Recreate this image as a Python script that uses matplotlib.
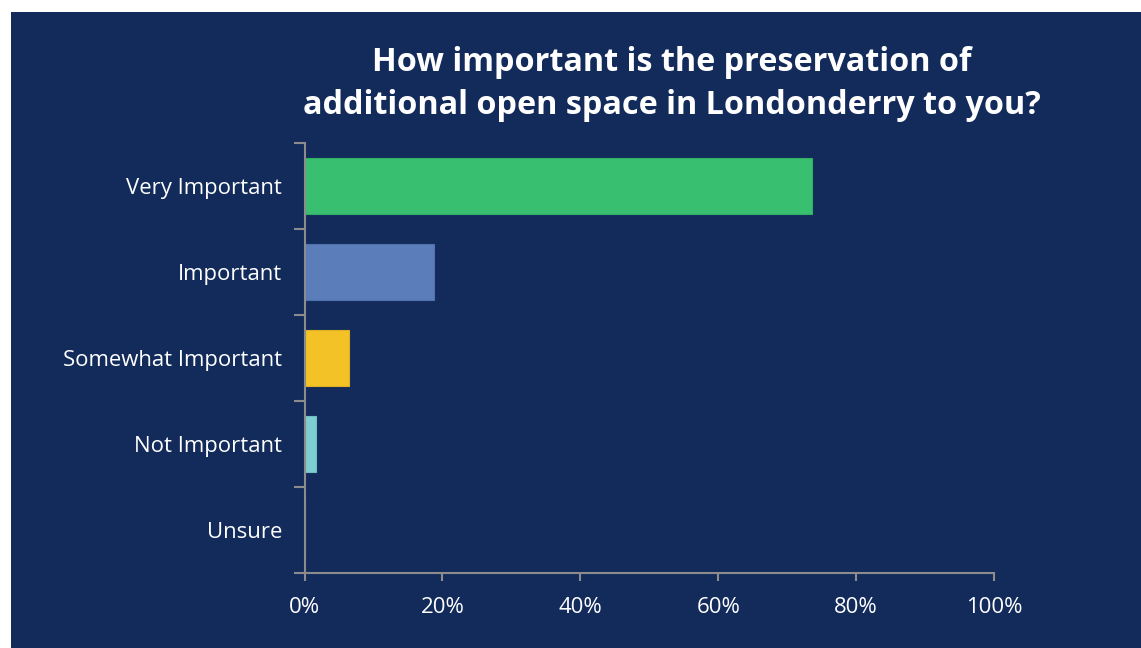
import matplotlib.pyplot as plt
from matplotlib.patches import Rectangle
from matplotlib.ticker import PercentFormatter

categories = ['Very Important', 'Important', 'Somewhat Important', 'Not Important', 'Unsure']
shares = [73.6, 18.8, 6.4, 1.6, 0.0]
colors = ['#38BF70', '#5B7DB9', '#F3C227', '#7ECDD0', '#7ECDD0']
edge_colors = ['#31AE64', '#5272AB', '#E0AF22', '#72BDC0', '#72BDC0']
title = 'How important is the preservation of\nadditional open space in Londonderry to you?'

navy = '#122B5B'
axis_grey = '#8C8C8C'

fig = plt.figure(figsize=(11.41, 6.48), dpi=100, facecolor='white')
# dark panel with a thin white margin on the top and left
fig.patches.append(Rectangle((11 / 1141, 0), 1, 1 - 12 / 648,
                             transform=fig.transFigure, facecolor=navy,
                             edgecolor='none', zorder=-5))

ax = fig.add_axes([304.5 / 1141, 1 - 573 / 648, 689.5 / 1141, 430 / 648])
ax.set_facecolor('none')

y = range(len(categories))
ax.barh(y, shares, height=0.66, color=colors, edgecolor=edge_colors, linewidth=0.8)
ax.set_ylim(len(categories) - 0.5, -0.5)
ax.set_xlim(0, 100)
ax.xaxis.set_major_formatter(PercentFormatter(decimals=0))
ax.set_xticks(range(0, 101, 20))

# category boundary ticks on the y axis, labels centred on the bars
ax.set_yticks([i - 0.5 for i in range(len(categories) + 1)])
ax.set_yticklabels([])
ax.set_yticks(list(y), minor=True)
ax.set_yticklabels(categories, minor=True)
ax.tick_params(axis='y', which='minor', length=0, pad=16)
ax.tick_params(axis='y', which='major', length=8, width=1.5, color=axis_grey)
ax.tick_params(axis='x', length=6, width=1.5, color=axis_grey, pad=11)

for lab in ax.get_yticklabels(minor=True) + ax.get_xticklabels():
    lab.set_family('Open Sans')
    lab.set_fontsize(15.9)
    lab.set_color('white')

for side in ['top', 'right']:
    ax.spines[side].set_visible(False)
for side in ['left', 'bottom']:
    ax.spines[side].set_color(axis_grey)
    ax.spines[side].set_linewidth(1.5)

fig.text(672 / 1141, 1 - 84 / 648, title, ha='center', va='center',
         color='white', fontsize=23.3, fontweight='bold', family='Open Sans',
         linespacing=1.38)

fig.savefig('out.png', dpi=100, facecolor='white')
